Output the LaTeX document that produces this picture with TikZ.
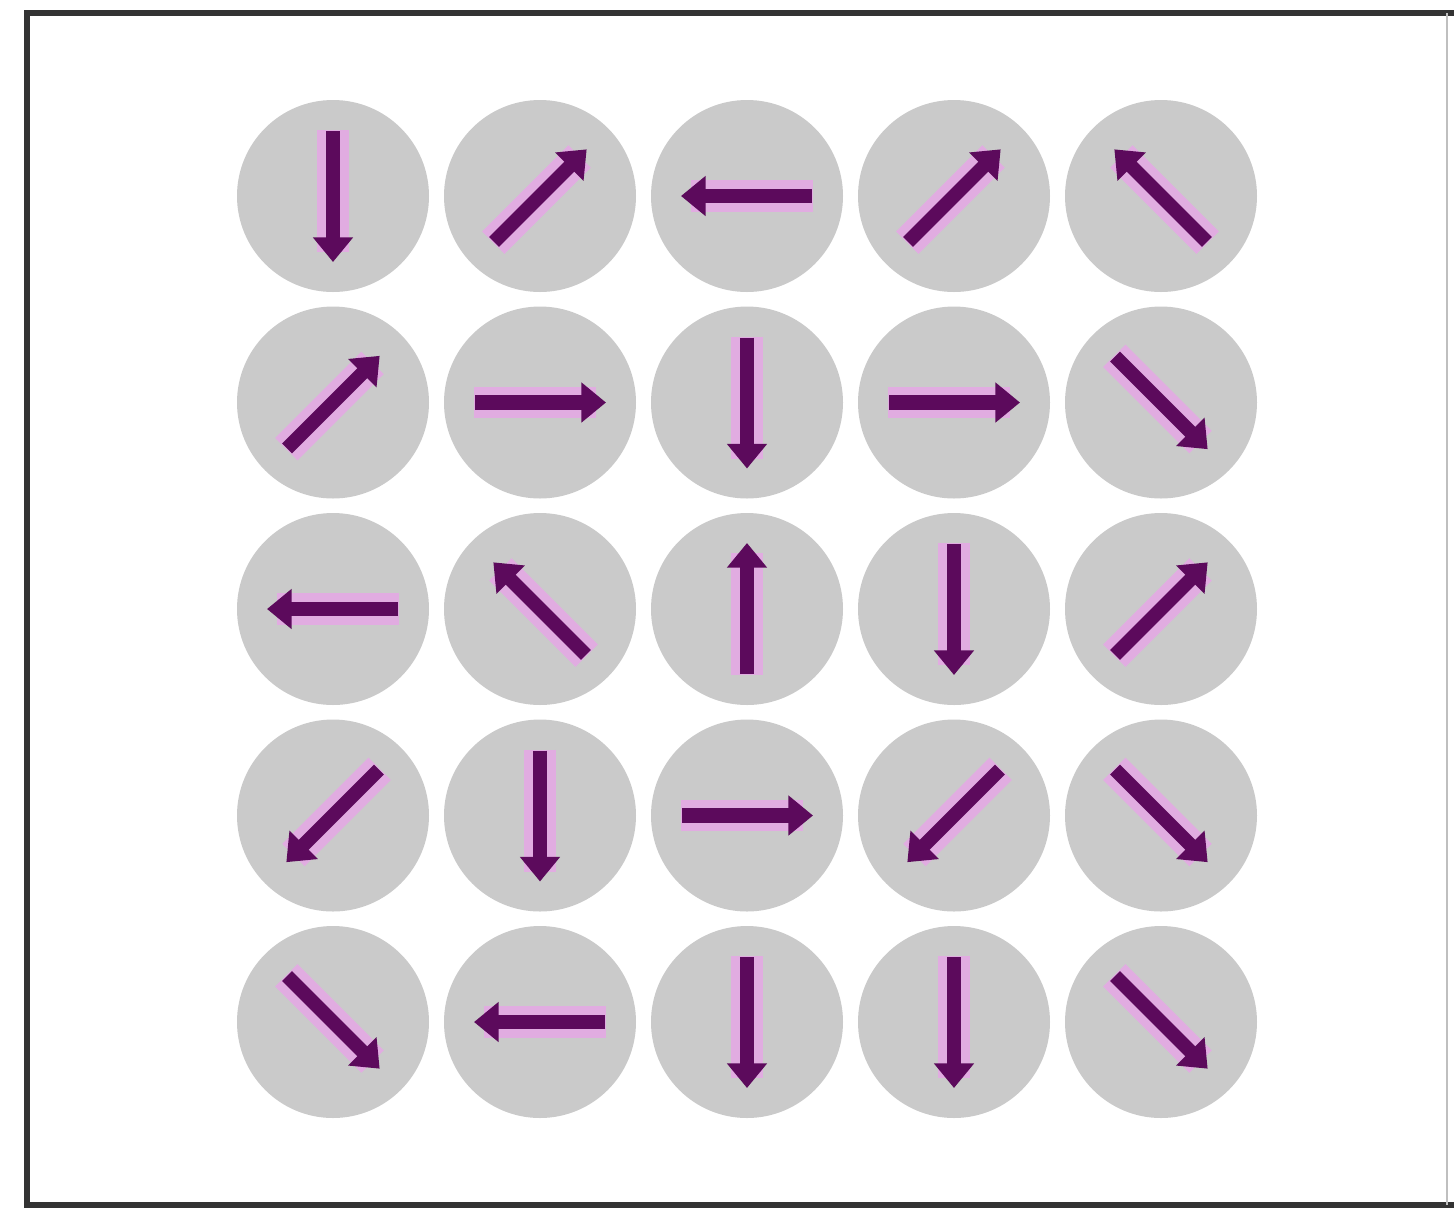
\documentclass[tikz,border=0pt]{standalone}
\usepackage{tikz}
\usetikzlibrary{arrows.meta}
\definecolor{spinpurple}{HTML}{5C0A5C}
\definecolor{spinglow}{HTML}{E9A3EA}
\definecolor{disc}{HTML}{CACACA}

\begin{document}
\begin{tikzpicture}[
        site/.style  = {circle, fill=disc, minimum size=1.92cm, inner sep=0pt},
        glow/.style  = {line width=9pt, spinglow, opacity=0.75},
        spin/.style  = {-{Triangle[length=7pt, width=11pt]}, line width=4pt, spinpurple},
        frame/.style = {line width=1.5pt, black!80},
    ]
        \useasboundingbox (0,0) rectangle (14.54,-12.09);
        \draw[frame] (14.54,-0.13) -- (0.27,-0.13) -- (0.27,-12.05) -- (14.54,-12.05);
        \draw[black!25, line width=0.5pt] (14.47,-0.13) -- (14.47,-12.05);
        % spin directions, row by row
        \foreach \angles [count=\r] in {{-90,45,180,45,135},{45,0,-90,0,-45},{180,135,90,-90,45},{-135,-90,0,-135,-45},{-45,180,-90,-90,-45}}
          \foreach \a [count=\c] in \angles {
            \node[site] (s-\r-\c) at ({1.26+2.07*\c}, {0.105-2.065*\r}) {};
            \draw[glow] ([shift={(\a+180:0.66)}]s-\r-\c.center) -- ([shift={(\a:0.56)}]s-\r-\c.center);
            \draw[spin] ([shift={(\a+180:0.65)}]s-\r-\c.center) -- ([shift={(\a:0.66)}]s-\r-\c.center);
          }
    \end{tikzpicture}
\end{document}
